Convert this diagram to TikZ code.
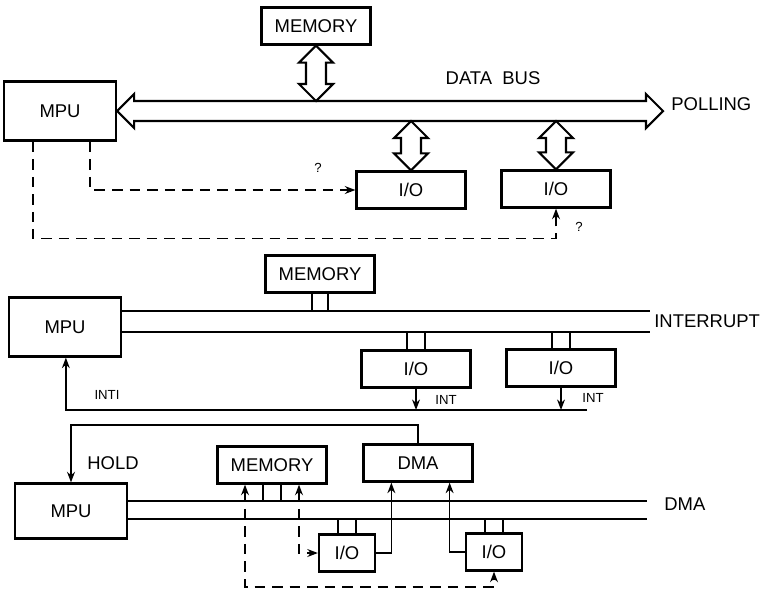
\documentclass[tikz,border=0pt]{standalone}
\usepackage{fontspec}
\setmainfont{Liberation Sans}
\usepackage{tikz}
\usetikzlibrary{arrows.meta, positioning, calc}
\tikzstyle{unit} = [draw, line width=1.3pt, minimum width=2.18cm, minimum height=0.74cm, inner sep=0pt, font=\fontsize{10.5}{12}\selectfont]
\tikzstyle{mpu} = [unit, minimum width=2.24cm, minimum height=1.18cm]
\tikzstyle{smallio} = [unit, minimum width=1.12cm]
\tikzstyle{tag} = [inner sep=0pt, font=\fontsize{10.5}{12}\selectfont]
\tikzstyle{small} = [inner sep=0pt, font=\fontsize{7.5}{8}\selectfont]
\tikzstyle{busline} = [line width=1.3pt]
\tikzstyle{tap} = [line width=0.9pt]
\tikzstyle{fatarrow} = [line width=1.2pt, line join=miter]
\tikzstyle{sig} = [->, >={Stealth[length=6pt,width=4.5pt]}, line width=0.8pt]
\tikzstyle{sigdash} = [sig, dash pattern=on 6pt off 4pt]
% hollow two-way arrow between two points on one vertical
\newcommand{\fatlink}[2]{\draw[fatarrow] (#1) -- ++(17,17) -- ++(-7,0) -- ($(#2)+(10,-17)$) -- ++(7,0) -- (#2) -- ++(-17,-17) -- ++(7,0) -- ($(#1)+(-10,17)$) -- ++(-7,0) -- cycle;}

\begin{document}
\begin{tikzpicture}[x=0.02cm, y=-0.02cm]
    \useasboundingbox (0,0) rectangle (760,593);

    % polling
    \node[mpu] (mpu1) at (60,111) {MPU};
    \node[unit] (mem1) at (316,26) {MEMORY};
    \node[unit] (io1a) at (411,190) {I/O};
    \node[unit] (io1b) at (556,189) {I/O};
    \node[tag] (databus) at (493,78) {DATA\ \ BUS};
    \node[tag, anchor=west] (polling) at (671,104) {POLLING};
    \node[small] (q1) at (318,168) {?};
    \node[small] (q2) at (579,227) {?};
    \coordinate (pollend) at (663,111);
    \coordinate (bus1top) at (0,101);
    \coordinate (bus1bot) at (0,121);

    \draw[fatarrow] (mpu1.east) -- ++(17,-17) -- ++(0,7) -- ($(pollend)+(-17,-10)$) -- ++(0,-7) -- (pollend)
        -- ++(-17,17) -- ++(0,-7) -- ($(mpu1.east)+(17,10)$) -- ++(0,7) -- cycle;
    \fatlink{mem1.south}{mem1.south |- bus1top}
    \fatlink{io1a.north |- bus1bot}{io1a.north}
    \fatlink{io1b.north |- bus1bot}{io1b.north}

    \draw[sigdash] ($(mpu1.south east)+(-27,0)$) |- (io1a.west);
    \draw[sigdash] ($(mpu1.south west)+(30,0)$) |- ($(io1b.south)+(0,30)$) -- (io1b.south);

    % interrupt
    \node[mpu] (mpu2) at (65,327) {MPU};
    \node[unit] (mem2) at (320,274) {MEMORY};
    \node[unit] (io2a) at (416,369) {I/O};
    \node[unit] (io2b) at (561,368) {I/O};
    \node[tag, anchor=west] (interrupt) at (654,321) {INTERRUPT};
    \node[small] (int1) at (446,400) {INT};
    \node[small] (int2) at (593,398) {INT};
    \node[small] (int3) at (107,395) {INTI};
    \coordinate (irqend) at (650,311);
    \coordinate (intend) at (587,410);

    \draw[busline] (mpu2.east |- irqend) -- (irqend);
    \draw[busline] ($(mpu2.east |- irqend)+(0,21)$) -- ($(irqend)+(0,21)$);
    \draw[tap] ($(mem2.south)+(-8,0)$) -- ($(mem2.south |- irqend)+(-8,0)$);
    \draw[tap] ($(mem2.south)+(8,0)$) -- ($(mem2.south |- irqend)+(8,0)$);
    \draw[tap] ($(io2a.north)+(-9,0)$) -- ($(io2a.north |- irqend)+(-9,21)$);
    \draw[tap] ($(io2a.north)+(9,0)$) -- ($(io2a.north |- irqend)+(9,21)$);
    \draw[tap] ($(io2b.north)+(-9,0)$) -- ($(io2b.north |- irqend)+(-9,21)$);
    \draw[tap] ($(io2b.north)+(9,0)$) -- ($(io2b.north |- irqend)+(9,21)$);

    \draw[sig] (io2a.south) -- (io2a.south |- intend);
    \draw[sig] (io2b.south) -- (io2b.south |- intend);
    \draw[sig] (intend) -| ($(mpu2.south west)+(58,0)$);

    % dma
    \node[mpu, minimum height=1.1cm] (mpu3) at (71,511) {MPU};
    \node[unit] (mem3) at (272,465) {MEMORY};
    \node[unit] (dma) at (418,463) {DMA};
    \node[smallio] (io3a) at (347,553) {I/O};
    \node[smallio] (io3b) at (494,552) {I/O};
    \node[tag] (hold) at (113,463) {HOLD};
    \node[tag, anchor=west] (dmalbl) at (664,504) {DMA};
    \coordinate (dmaend) at (647,501);
    \coordinate (holdtop) at (0,425);
    \coordinate (dmaloop) at (0,587);

    \draw[busline] (mpu3.east |- dmaend) -- (dmaend);
    \draw[busline] ($(mpu3.east |- dmaend)+(0,18)$) -- ($(dmaend)+(0,18)$);
    \draw[tap] ($(mem3.south)+(-9,0)$) -- ($(mem3.south |- dmaend)+(-9,0)$);
    \draw[tap] ($(mem3.south)+(9,0)$) -- ($(mem3.south |- dmaend)+(9,0)$);
    \draw[tap] ($(io3a.north)+(-9,0)$) -- ($(io3a.north |- dmaend)+(-9,18)$);
    \draw[tap] ($(io3a.north)+(9,0)$) -- ($(io3a.north |- dmaend)+(9,18)$);
    \draw[tap] ($(io3b.north)+(-9,0)$) -- ($(io3b.north |- dmaend)+(-9,18)$);
    \draw[tap] ($(io3b.north)+(9,0)$) -- ($(io3b.north |- dmaend)+(9,18)$);

    \draw[sig] (dma.north) |- (holdtop -| mpu3.north) -- (mpu3.north);
    \draw[sigdash, <->] ($(mem3.south)+(-27,0)$) |- (dmaloop -| io3b.south) -- (io3b.south);
    \draw[sigdash, <->] ($(mem3.south)+(27,0)$) |- (io3a.west);
    \draw[sig] (io3a.east) -| ($(dma.south west)+(29,0)$);
    \draw[sig] (io3b.west) -| ($(dma.south east)+(-24,0)$);
\end{tikzpicture}
\end{document}
